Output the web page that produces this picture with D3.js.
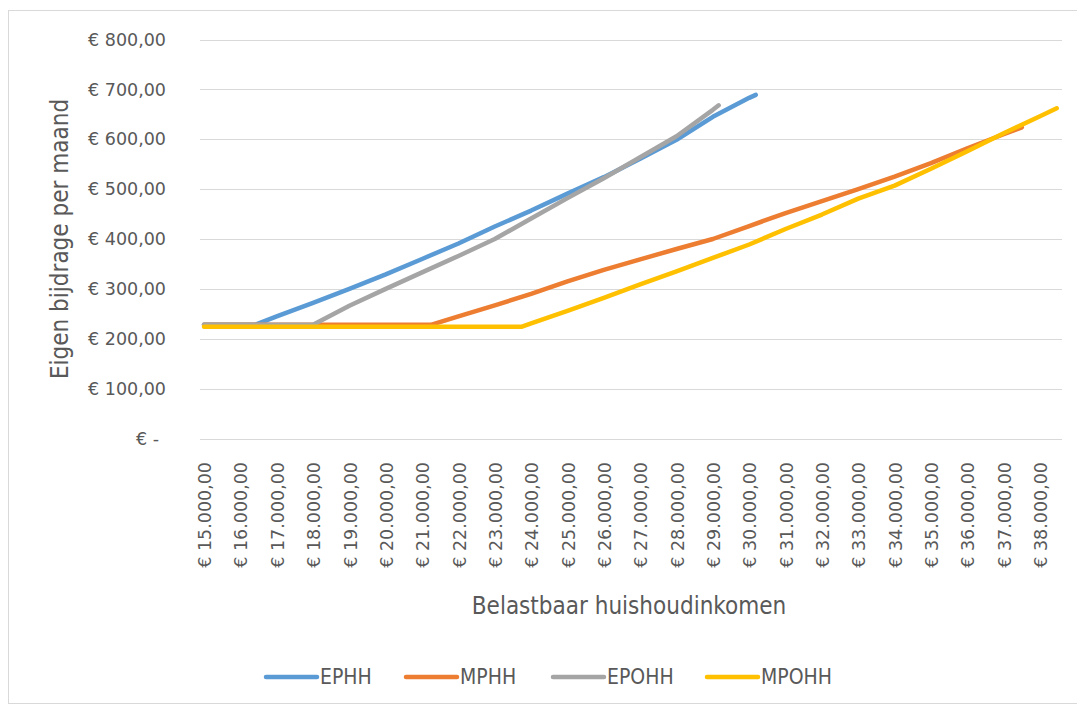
<!DOCTYPE html>
<html>
<head>
<meta charset="utf-8">
<script src="https://cdn.jsdelivr.net/npm/d3@7"></script>
<style>
  body { margin: 0; background: #fff; }
  .tick-label { font-family: "DejaVu Sans", sans-serif; font-size: 17.5px; fill: #595959; }
  .title { font-family: "DejaVu Sans Condensed", "DejaVu Sans", sans-serif; font-stretch: condensed; font-size: 24px; fill: #595959; }
  .legend-label { font-family: "DejaVu Sans Condensed", "DejaVu Sans", sans-serif; font-stretch: condensed; font-size: 21px; fill: #595959; }
</style>
</head>
<body>
<svg id="chart" width="1077" height="705"></svg>
<script>
// series names and colours
var seriesNames = ["EPHH", "MPHH", "EPOHH", "MPOHH"];
var seriesColors = ["#5b9bd5", "#ed7d31", "#a5a5a5", "#ffc000"];

// x tick values (income) and y tick values
var xTicks = [15000,16000,17000,18000,19000,20000,21000,22000,23000,24000,25000,26000,
              27000,28000,29000,30000,31000,32000,33000,34000,35000,36000,37000,38000];
var yTicks = [0,100,200,300,400,500,600,700,800];

// EPHH
var ephhIncome = [15000,16000,16400,17000,18000,19000,20000,21000,22000,23000,24000,25000,26000,27000,28000,29000,30000,30180];
var ephhValue  = [228,228,228,245,272,300,329,360,391,425,457,491,524,561,599,645,683,689];

// MPHH
var mphhIncome = [15000,16000,17000,18000,19000,20000,21000,21240,22000,23000,24000,25000,26000,27000,28000,29000,30000,31000,32000,33000,34000,35000,36000,37000,37500];
var mphhValue  = [228,228,228,228,228,228,228,228,245,267,290,315,338,359,380,400,426,452,476,500,525,552,582,610,624];

// EPOHH
var epohhIncome = [15000,16000,17000,18000,19000,20000,21000,22000,23000,24000,25000,26000,27000,28000,29000,29160];
var epohhValue  = [228,228,228,228,266,300,333,366,400,441,482,522,564,606,659,668];

// MPOHH
var mpohhIncome = [15000,16000,17000,18000,19000,20000,21000,22000,23000,23730,24000,25000,26000,27000,28000,29000,30000,31000,32000,33000,34000,35000,36000,37000,38000,38460];
var mpohhValue  = [224,224,224,224,224,224,224,224,224,224,231,256,282,309,335,362,389,420,449,481,507,541,576,612,646,662];

var incomes = [ephhIncome, mphhIncome, epohhIncome, mpohhIncome];
var values = [ephhValue, mphhValue, epohhValue, mpohhValue];

var svg = d3.select("#chart");

// chart border
svg.append("rect")
  .attr("x", 8.5).attr("y", 10.5)
  .attr("width", 1070).attr("height", 693)
  .attr("fill", "none")
  .attr("stroke", "#d9d9d9");

var x = d3.scaleLinear().domain([14890, 38605]).range([200, 1062]);
var y = d3.scaleLinear().domain([0, 800]).range([438.5, 39.5]);

// gridlines
svg.append("g").selectAll("line")
  .data(yTicks)
  .enter().append("line")
    .attr("x1", 200).attr("x2", 1062)
    .attr("y1", function(d) { return Math.round(y(d)) + 0.5; })
    .attr("y2", function(d) { return Math.round(y(d)) + 0.5; })
    .attr("stroke", "#d9d9d9")
    .attr("stroke-width", 1);

// y labels
var euro = function(d) {
  if (d == 0) return "€ -";
  return "€ " + d3.format(".2f")(d).replace(".", ",");
};
svg.append("g").selectAll("text")
  .data(yTicks)
  .enter().append("text")
    .attr("class", "tick-label")
    .attr("x", function(d) { return d == 0 ? 159 : 166; })
    .attr("y", function(d) { return y(d); })
    .attr("dy", "0.35em")
    .attr("text-anchor", "end")
    .text(euro);

// x labels, rotated
var incomeFmt = function(d) {
  return "€ " + d3.format(",.2f")(d).replace(/,/g, "#").replace(".", ",").replace(/#/g, ".");
};
svg.append("g").selectAll("text")
  .data(xTicks)
  .enter().append("text")
    .attr("class", "tick-label")
    .attr("transform", function(d) { return "translate(" + (x(d) + 1) + ",462) rotate(-90)"; })
    .attr("dy", "0.35em")
    .attr("text-anchor", "end")
    .text(incomeFmt);

// axis titles
svg.append("text")
  .attr("class", "title")
  .attr("x", 629).attr("y", 614)
  .attr("text-anchor", "middle")
  .text("Belastbaar huishoudinkomen");

svg.append("text")
  .attr("class", "title")
  .attr("transform", "translate(68,239) rotate(-90)")
  .attr("text-anchor", "middle")
  .text("Eigen bijdrage per maand");

// lines
var line = d3.line()
  .x(function(d) { return x(d[0]); })
  .y(function(d) { return y(d[1]); });

seriesNames.forEach(function(name, i) {
  var pts = incomes[i].map(function(inc, j) { return [inc, values[i][j]]; });
  svg.append("path")
    .datum(pts)
    .attr("d", line)
    .attr("fill", "none")
    .attr("stroke", seriesColors[i])
    .attr("stroke-width", 4.5)
    .attr("stroke-linecap", "round")
    .attr("stroke-linejoin", "round");
});

// legend
var legendX = [266, 406, 553, 707];
var legend = svg.append("g").selectAll("g")
  .data(seriesNames)
  .enter().append("g")
    .attr("transform", function(d, i) { return "translate(" + legendX[i] + ",677)"; });

legend.append("line")
  .attr("x1", 0).attr("x2", 51)
  .attr("stroke", function(d, i) { return seriesColors[i]; })
  .attr("stroke-width", 4.5)
  .attr("stroke-linecap", "round");

legend.append("text")
  .attr("class", "legend-label")
  .attr("x", 54)
  .attr("dy", "0.35em")
  .text(function(d) { return d; });
</script>
</body>
</html>
